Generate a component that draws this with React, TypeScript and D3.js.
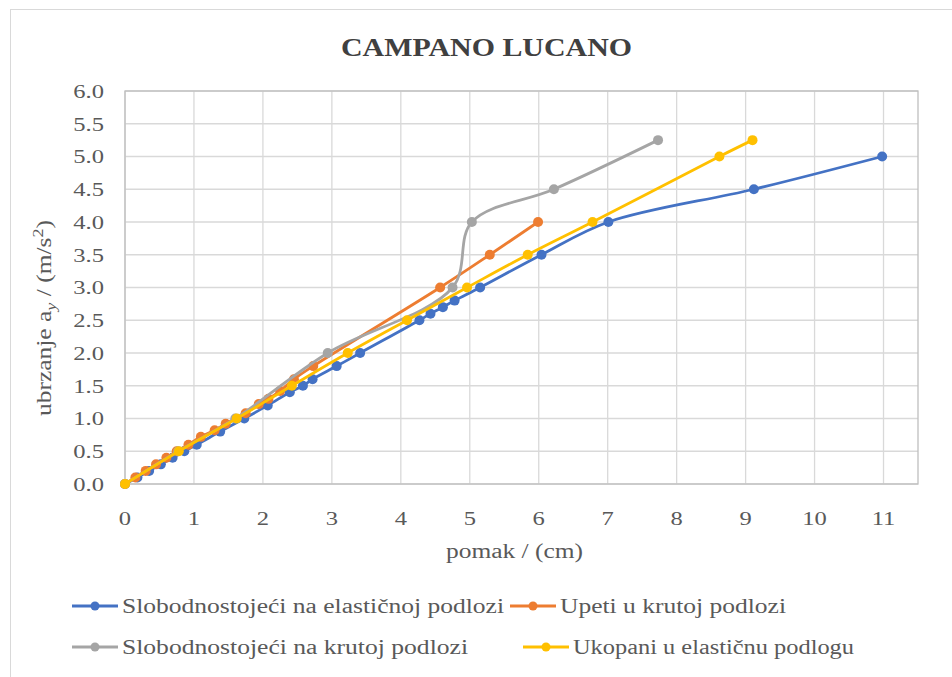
import React from "react";
import * as d3 from "d3";

const title = "CAMPANO LUCANO";
const xTicks = [0, 1, 2, 3, 4, 5, 6, 7, 8, 9, 10, 11];
const yTicks = [0, 0.5, 1, 1.5, 2, 2.5, 3, 3.5, 4, 4.5, 5, 5.5, 6];

const seriesNames = [
  "Slobodnostoje\u0107i na elasti\u010dnoj podlozi",
  "Upeti u krutoj podlozi",
  "Slobodnostoje\u0107i na krutoj podlozi",
  "Ukopani u elasti\u010dnu podlogu",
];
const seriesColors = ["#4472C4", "#ED7D31", "#A5A5A5", "#FFC000"];

const blueX = [0, 0.18, 0.35, 0.52, 0.69, 0.86, 1.04, 1.38, 1.73, 2.07, 2.39, 2.58, 2.72, 3.07, 3.41, 4.27, 4.43, 4.61, 4.78, 5.15, 6.04, 7.01, 9.12, 10.98];
const blueY = [0, 0.1, 0.2, 0.3, 0.4, 0.5, 0.6, 0.8, 1.0, 1.2, 1.4, 1.5, 1.6, 1.8, 2.0, 2.5, 2.6, 2.7, 2.8, 3.0, 3.5, 4.0, 4.5, 5.0];

const orangeX = [0, 0.15, 0.3, 0.45, 0.6, 0.75, 0.92, 1.1, 1.3, 1.46, 1.75, 1.94, 2.08, 2.25, 2.45, 2.73, 4.57, 5.29, 5.99];
const orangeY = [0, 0.1, 0.2, 0.3, 0.4, 0.5, 0.6, 0.72, 0.82, 0.92, 1.08, 1.22, 1.3, 1.42, 1.6, 1.8, 3.0, 3.5, 4.0];

const grayX = [0, 0.77, 1.6, 2.94, 4.75, 5.03, 6.22, 7.73];
const grayY = [0, 0.5, 1.0, 2.0, 3.0, 4.0, 4.5, 5.25];

const yellowX = [0, 0.78, 1.62, 2.42, 3.23, 4.09, 4.96, 5.84, 6.78, 8.62, 9.1];
const yellowY = [0, 0.5, 1.0, 1.5, 2.0, 2.5, 3.0, 3.5, 4.0, 5.0, 5.25];

const seriesXs = [blueX, orangeX, grayX, yellowX];
const seriesYs = [blueY, orangeY, grayY, yellowY];

const W = 952;
const H = 677;
const left = 125;
const right = 918;
const top = 91;
const bottom = 484;
const SX = 1.26;

export default function App() {
  const x = d3.scaleLinear().domain([0, 11.5]).range([left, right]);
  const y = d3.scaleLinear().domain([0, 6]).range([bottom, top]);
  const line = d3
    .line<[number, number]>()
    .x((d) => x(d[0]))
    .y((d) => y(d[1]))
    .curve(d3.curveCatmullRom.alpha(0.5));

  const font = "'Liberation Serif', 'Times New Roman', serif";
  const textColor = "#595959";

  const legendItems = [
    { i: 0, lx: 72, ty: 606, tl: 382 },
    { i: 1, lx: 510, ty: 606, tl: 226 },
    { i: 2, lx: 72, ty: 647, tl: 346 },
    { i: 3, lx: 523, ty: 647, tl: 281 },
  ];

  return (
    <svg
      width={W}
      height={H}
      style={{ position: "absolute", left: 0, top: 0, background: "#fff" }}
      fontFamily={font}
    >
      <rect x={0} y={0} width={W} height={H} fill="#fff" />
      <rect x={10.5} y={9.5} width={W + 20} height={H + 20} fill="#fff" stroke="#d9d9d9" />
      <text
        x={341}
        y={56}
        fontSize={25}
        fontWeight="bold"
        fill="#404040"
        textLength={291}
        lengthAdjust="spacingAndGlyphs"
      >
        {title}
      </text>
      {/* grid */}
      {yTicks.map((t) => (
        <line key={"gy" + t} x1={left} x2={right} y1={y(t)} y2={y(t)} stroke="#d9d9d9" strokeWidth={1.3} />
      ))}
      {xTicks.map((t) => (
        <line key={"gx" + t} x1={x(t)} x2={x(t)} y1={top} y2={bottom} stroke="#d9d9d9" strokeWidth={1.3} />
      ))}
      <rect x={left} y={top} width={right - left} height={bottom - top} fill="none" stroke="#bfbfbf" strokeWidth={1.3} />
      {/* tick labels */}
      {yTicks.map((t) => (
        <text
          key={"ty" + t}
          transform={`translate(104, ${y(t)}) scale(${SX}, 1)`}
          dy="0.35em"
          textAnchor="end"
          fontSize={19.5}
          fill={textColor}
        >
          {d3.format(".1f")(t)}
        </text>
      ))}
      {xTicks.map((t) => (
        <text
          key={"tx" + t}
          transform={`translate(${x(t)}, 518) scale(${SX}, 1)`}
          dy="0.35em"
          textAnchor="middle"
          fontSize={19.5}
          fill={textColor}
        >
          {t}
        </text>
      ))}
      <text
        x={446}
        y={551}
        dy="0.35em"
        fontSize={20}
        fill={textColor}
        textLength={137}
        lengthAdjust="spacingAndGlyphs"
      >
        pomak / (cm)
      </text>
      <text
        transform={`translate(44, 318) rotate(-90)`}
        textAnchor="middle"
        dy="0.35em"
        fontSize={21}
        fill={textColor}
        textLength={196}
        lengthAdjust="spacingAndGlyphs"
      >
        <tspan>ubrzanje  a</tspan>
        <tspan fontSize={15} dy="5" fontStyle="italic">y</tspan>
        <tspan dy="-5"> / (m/s</tspan>
        <tspan fontSize={15} dy="-8">2</tspan>
        <tspan dy="8">)</tspan>
      </text>
      {/* series */}
      {seriesXs.map((xs, si) => {
        const pts: [number, number][] = xs.map((v, j) => [v, seriesYs[si][j]]);
        return (
          <g key={"s" + si}>
            <path d={line(pts) || ""} fill="none" stroke={seriesColors[si]} strokeWidth={2.8} />
            {pts.map((p, j) => (
              <circle key={j} cx={x(p[0])} cy={y(p[1])} r={5} fill={seriesColors[si]} />
            ))}
          </g>
        );
      })}
      {/* legend */}
      {legendItems.map(({ i, lx, ty, tl }) => (
        <g key={"l" + i}>
          <line x1={lx} x2={lx + 46} y1={ty} y2={ty} stroke={seriesColors[i]} strokeWidth={2.8} />
          <circle cx={lx + 23} cy={ty} r={4.5} fill={seriesColors[i]} />
          <text
            x={lx + 50}
            y={ty}
            dy="0.35em"
            fontSize={20.5}
            fill={textColor}
            textLength={tl}
            lengthAdjust="spacingAndGlyphs"
          >
            {seriesNames[i]}
          </text>
        </g>
      ))}
    </svg>
  );
}
